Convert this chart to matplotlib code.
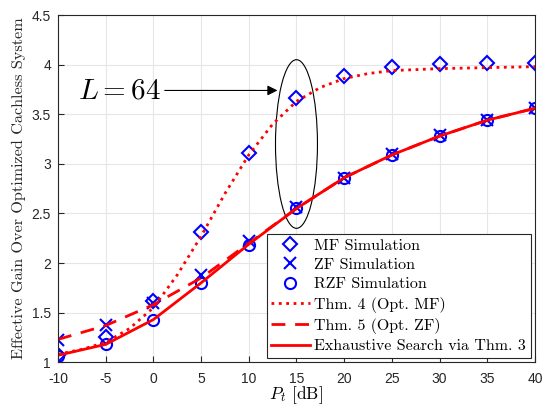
import numpy as np
import matplotlib.pyplot as plt
from matplotlib.patches import Ellipse

plt.rcParams['mathtext.fontset'] = 'cm'

# simulation points (5 dB grid)
pt_sim = [-10, -5, 0, 5, 10, 15, 20, 25, 30, 35, 40]
mf_sim = [1.07, 1.25, 1.62, 2.31, 3.11, 3.66, 3.89, 3.98, 4.01, 4.02, 4.02]
zf_sim = [1.22, 1.38, 1.60, 1.88, 2.22, 2.56, 2.86, 3.10, 3.29, 3.44, 3.56]
rzf_sim = [1.06, 1.18, 1.43, 1.80, 2.18, 2.55, 2.86, 3.09, 3.28, 3.44, 3.56]

# theory curves
pt_mf_thm = [-10, -7.5, -5, -2.5, 0, 2.5, 5, 7.5, 10, 12.5, 15, 17.5, 20, 22.5, 25, 27.5, 30, 35, 40]
mf_thm = [1.08, 1.13, 1.20, 1.34, 1.55, 1.88, 2.27, 2.70, 3.09, 3.40, 3.63, 3.77, 3.86, 3.91, 3.94, 3.95, 3.96, 3.97, 3.98]
zf_thm = [1.23, 1.37, 1.58, 1.85, 2.20, 2.55, 2.86, 3.09, 3.28, 3.44, 3.56]
exh = [1.07, 1.18, 1.43, 1.80, 2.19, 2.55, 2.86, 3.09, 3.28, 3.44, 3.56]

fig, ax = plt.subplots(figsize=(5.42, 4.07), dpi=100)

ax.plot(pt_sim, mf_sim, 'D', color='blue', mfc='none', ms=7, mew=1.5, ls='none', label='MF Simulation')
ax.plot(pt_sim, zf_sim, 'x', color='blue', ms=8, mew=1.5, ls='none', label='ZF Simulation')
ax.plot(pt_sim, rzf_sim, 'o', color='blue', mfc='none', ms=8, mew=1.5, ls='none', label='RZF Simulation')
ax.plot(pt_mf_thm, mf_thm, ':', color='red', lw=2, label='Thm. 4 (Opt. MF)')
ax.plot(pt_sim, zf_thm, '--', color='red', lw=2, dashes=(5, 3.5), label='Thm. 5 (Opt. ZF)')
ax.plot(pt_sim, exh, '-', color='red', lw=2, label='Exhaustive Search via Thm. 3')

ax.add_patch(Ellipse((15, 3.2), 4.4, 1.70, fill=False, ec='black', lw=0.8))
ax.annotate('', xy=(13.3, 3.74), xytext=(0.9, 3.74),
            arrowprops=dict(arrowstyle='-|>', color='black', lw=0.8, mutation_scale=15))
ax.text(-3.6, 3.74, r'$L = 64$', fontsize=21, ha='center', va='center')

ax.set_xlim(-10, 40)
ax.set_ylim(1, 4.5)
ax.set_xticks(pt_sim)
ax.set_xticklabels([str(v) for v in pt_sim])
ax.set_yticks([1, 1.5, 2, 2.5, 3, 3.5, 4, 4.5])
ax.set_yticklabels(['1', '1.5', '2', '2.5', '3', '3.5', '4', '4.5'])
ax.tick_params(direction='in', labelsize=10, colors='#262626', length=4)
ax.tick_params(axis='x', pad=7)
ax.tick_params(axis='y', pad=5)
for lab in ax.get_xticklabels() + ax.get_yticklabels():
    lab.set_family('Liberation Sans')
ax.grid(True, color='#e6e6e6', lw=0.8)
ax.set_axisbelow(True)
for s in ax.spines.values():
    s.set_color('#262626')
    s.set_linewidth(0.8)

ax.set_xlabel(r'$P_t$ [dB]', fontsize=12.5, family='cmr10', labelpad=-1)
ax.set_ylabel('Effective Gain Over Optimized Cachless System', fontsize=11.7, family='cmr10', labelpad=4, color='#262626')

leg = ax.legend(loc='lower right', prop={'family': 'cmr10', 'size': 11.5},
                fancybox=False, edgecolor='#262626', framealpha=1,
                borderaxespad=0.25, handlelength=2.4, handletextpad=0.3, labelspacing=0.33,
                borderpad=0.3)
leg.get_frame().set_linewidth(0.8)

fig.subplots_adjust(left=0.107, right=0.987, bottom=0.11, top=0.963)
fig.savefig('out.png', dpi=100)
